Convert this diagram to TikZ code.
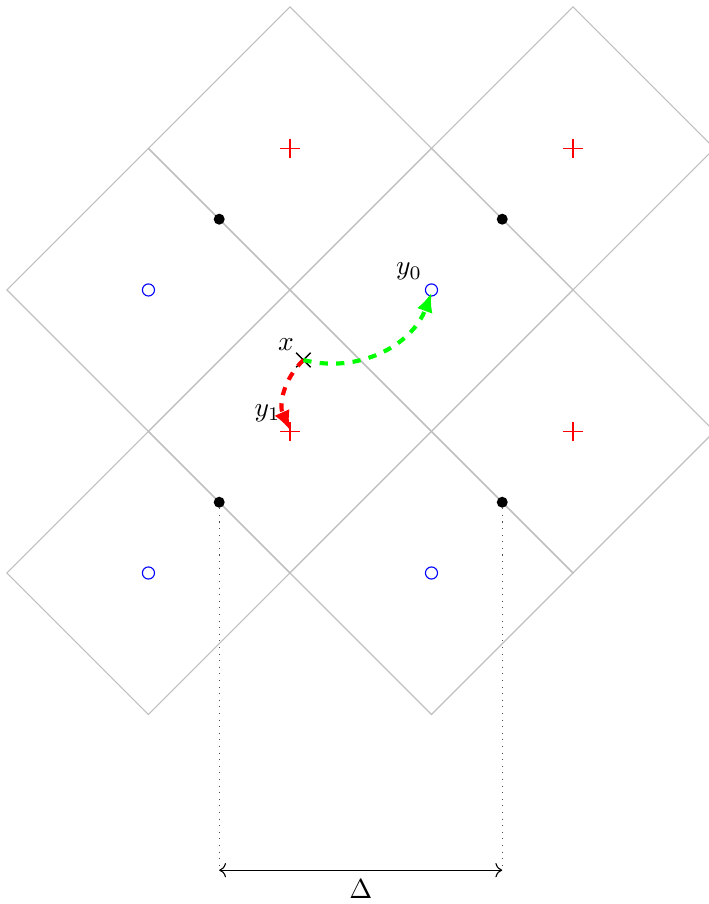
\documentclass[tikz,border=0pt]{standalone}
\usetikzlibrary{arrows.meta,shapes.misc}
\begin{document}
\begin{tikzpicture}[x=51.45pt,y=51.45pt,
  cell/.style={draw=gray!50, line width=0.4pt},
  plusmk/.style={cross out, draw=red, line width=0.4pt, minimum size=4.67pt, inner sep=0pt, rotate=45},
  circmk/.style={circle, draw=blue, line width=0.4pt, minimum size=4.4pt, inner sep=0pt},
  dotmk/.style={circle, fill=black, minimum size=4pt, inner sep=0pt},
  crossmk/.style={cross out, draw=black, line width=0.5pt, minimum size=4.8pt, inner sep=0pt},
  movearrow/.style={line width=1.5pt, dashed, -{Latex[length=7pt,width=6pt]}},
  guide/.style={dotted, line width=0.4pt, black!70}]
\useasboundingbox (-2.049,-4.339) rectangle (2.954,2.049);
% diamonds
\foreach \cx/\cy in {0/1,2/1,-1/0,1/0,0/-1,2/-1,-1/-2,1/-2}
  \draw[cell] (\cx-1,\cy) -- (\cx,\cy+1) -- (\cx+1,\cy) -- (\cx,\cy-1) -- cycle;
% red plus marks
\node[plusmk] (r1) at (0,1) {};
\node[plusmk] (r2) at (2,1) {};
\node[plusmk] (r3) at (2,-1) {};
\node[plusmk] (y1) at (0,-1) {};
% blue circles
\node[circmk] (b1) at (-1,0) {};
\node[circmk] (y0) at (1,0) {};
\node[circmk] (b3) at (-1,-2) {};
\node[circmk] (b4) at (1,-2) {};
% black dots
\node[dotmk] (d1) at (-0.5,0.5) {};
\node[dotmk] (d2) at (1.5,0.5) {};
\node[dotmk] (d3) at (-0.5,-1.5) {};
\node[dotmk] (d4) at (1.5,-1.5) {};
% point x
\node[crossmk] (xp) at (0.095,-0.495) {};
% labels
\node[anchor=south east, inner sep=3.3pt] (xl) at (xp.center) {$x$};
\node[anchor=south east, inner sep=3.3pt] (y0l) at (y0.center) {$y_0$};
\node[anchor=south east, inner sep=3.3pt] (y1l) at (y1.center) {$y_1$};
% moves
\draw[movearrow, red] (xp.center) to[bend right=35] ([yshift=0.5pt]y1.center);
\draw[movearrow, green] (xp.center) to[bend right=42] ([yshift=-1pt]y0.center);
% Delta
\coordinate (e1) at (-0.5,-4.1);
\coordinate (e2) at (1.5,-4.1);
\draw[guide] (d3) -- (e1);
\draw[guide] (d4) -- (e2);
\draw[<->, line width=0.4pt] (e1) -- node[below] (delta) {$\Delta$} (e2);
\end{tikzpicture}
\end{document}
